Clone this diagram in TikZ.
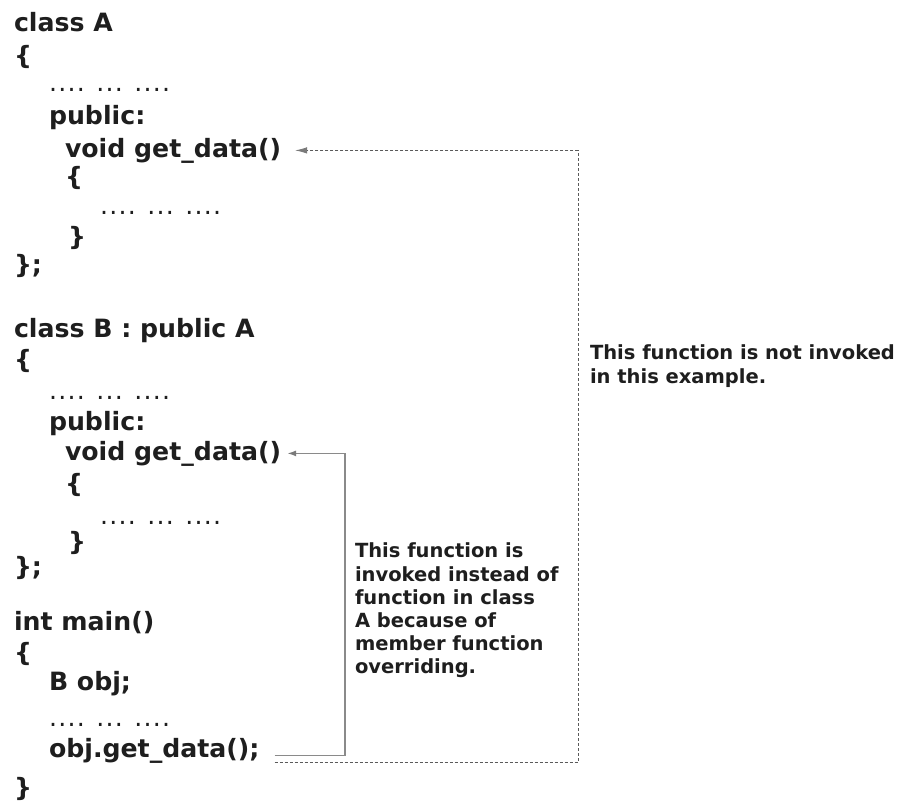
\documentclass[tikz,border=0pt]{standalone}
\usepackage{fontspec}
\setmainfont{DejaVu Sans}
\usetikzlibrary{arrows.meta,calc}
\definecolor{ink}{HTML}{1E1E1E}
\definecolor{solidgray}{HTML}{8A8A8A}
\definecolor{dashgray}{HTML}{5A5A5A}
\definecolor{tipgray}{HTML}{7A7A7A}
\newcommand{\grpdots}[1]{{\mdseries\foreach \k in {1,...,#1}{\ifnum\k>1\kern1.3pt\fi.}}}
\newcommand{\codedots}{\grpdots{4}\hspace{0.45em}\grpdots{3}\hspace{0.45em}\grpdots{4}}
\tikzset{
  code/.style={anchor=base west, inner sep=0pt, outer sep=0pt, text=ink,
    font=\fontsize{25.2}{30}\selectfont\bfseries},
  note/.style={anchor=north west, inner sep=0pt, outer sep=0pt, align=left, text=ink,
    font=\fontsize{19.5}{23.2}\selectfont\bfseries},
  callB/.style={draw=solidgray, line width=1.6pt, -{Latex[length=9pt,width=6pt,color=tipgray]}},
  callA/.style={draw=dashgray, line width=0.9pt, dash pattern=on 3pt off 2pt,
    -{Latex[length=12pt,width=6.5pt,color=tipgray]}}
}
\begin{document}
\begin{tikzpicture}[x=1pt,y=-1pt]
\useasboundingbox (0,0) rectangle (900,801);
% class A
\node[code] (clA) at (14,31) {class A};
\node[code] (clAo) at (14,64) {\{};
\node[code] (clAd) at (49,91) {\codedots};
\node[code] (clAp) at (49,124) {public:};
\node[code] (voidA) at (65,157) {void get\_data()};
\node[code] (fAo) at (65,185) {\{};
\node[code] (fAd) at (100,214) {\codedots};
\node[code] (fAc) at (68,245) {\}};
\node[code] (clAc) at (14,273) {\};};
% class B
\node[code] (clB) at (14,337) {class B : public A};
\node[code] (clBo) at (14,368) {\{};
\node[code] (clBd) at (49,399) {\codedots};
\node[code] (clBp) at (49,430) {public:};
\node[code] (voidB) at (65,460) {void get\_data()};
\node[code] (fBo) at (65,492) {\{};
\node[code] (fBd) at (100,524) {\codedots};
\node[code] (fBc) at (68,550) {\}};
\node[code] (clBc) at (14,575) {\};};
% main
\node[code] (mn) at (14,630) {int main()};
\node[code] (mno) at (14,661) {\{};
\node[code] (bobj) at (49,690) {B obj;};
\node[code] (mnd) at (49,726) {\codedots};
\node[code] (call) at (49,757) {obj.get\_data();};
\node[code] (mnc) at (14,796) {\}};
% notes
\node[note] (noteA) at (590,345) {This function is not invoked\\in this example.};
\node[note] (noteB) at (355,543) {This function is\\invoked instead of\\function in class\\A because of\\member function\\overriding.};
% connectors
\coordinate (ax) at (578,0);
\coordinate (bx) at (345,0);
\coordinate (endA) at ([xshift=14pt]voidA.east);
\coordinate (endB) at ([xshift=6pt]voidB.east);
\draw[callB] ([xshift=15pt,yshift=-5pt]call.east) -| (bx |- endB) -- (endB);
\draw[callA] ([xshift=15pt,yshift=-12pt]call.east) -| (ax |- endA) -- (endA);
\end{tikzpicture}
\end{document}
